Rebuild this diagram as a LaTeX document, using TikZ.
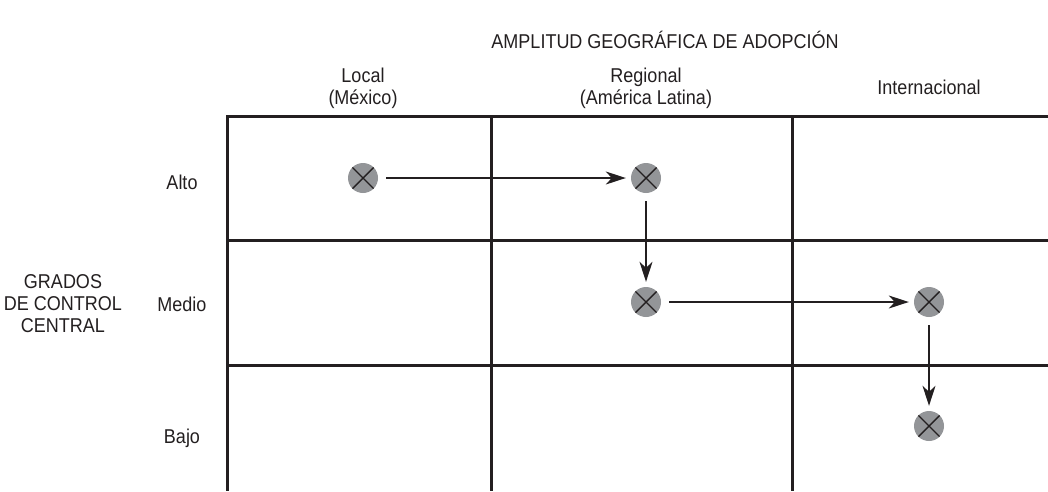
\documentclass[tikz,border=0pt]{standalone}
\usepackage{fontspec}
\setmainfont{Liberation Sans}[FakeStretch=0.9]
\usetikzlibrary{arrows.meta}
\definecolor{GridInk}{HTML}{231F20}
\definecolor{MarkGray}{HTML}{939598}

\begin{document}
\begin{tikzpicture}[x=1pt,y=-1pt,
    label/.style={inner sep=0pt,align=center,text=GridInk,font=\fontsize{20}{22}\selectfont},
    gridline/.style={line width=3pt,color=GridInk},
    stagemark/.style={circle,fill=MarkGray,minimum size=30pt,inner sep=0pt,
          path picture={\draw[line width=1.4pt,color=GridInk]
            (path picture bounding box.north west) -- (path picture bounding box.south east)
            (path picture bounding box.south west) -- (path picture bounding box.north east);}},
    flow/.style={-{Stealth[length=20pt,width=13pt,inset=6pt]},line width=1.3pt,color=GridInk,
          shorten <=8pt,shorten >=5pt}]
    \useasboundingbox (0,0) rectangle (1048,491);
    % grid
    \draw[gridline] (1048,116) -- (227,116) -- (227,491);
    \draw[gridline] (227,240) -- (1048,240);
    \draw[gridline] (227,365) -- (1048,365);
    \draw[gridline] (491,116) -- (491,491);
    \draw[gridline] (792,116) -- (792,491);
    % axis titles
    \node[label] (amplitud) at (665,40) {AMPLITUD GEOGRÁFICA DE ADOPCIÓN};
    \node[label] (grados) at (63,304) {GRADOS\\DE CONTROL\\CENTRAL};
    \node[label] (local) at (363,88) {Local\\(México)};
    \node[label] (regional) at (646,88) {Regional\\(América Latina)};
    \node[label] (internacional) at (929,87) {Internacional};
    \node[label] (alto) at (182,182) {Alto};
    \node[label] (medio) at (182,304) {Medio};
    \node[label] (bajo) at (182,438) {Bajo};
    % path of adoption
    \node[stagemark] (locAlto) at (363,178) {};
    \node[stagemark] (regAlto) at (646,178) {};
    \node[stagemark] (regMedio) at (646,302) {};
    \node[stagemark] (intMedio) at (929,302) {};
    \node[stagemark] (intBajo) at (929,426) {};
    \draw[flow] (locAlto) -- (regAlto);
    \draw[flow] (regAlto) -- (regMedio);
    \draw[flow] (regMedio) -- (intMedio);
    \draw[flow] (intMedio) -- (intBajo);
  \end{tikzpicture}
\end{document}
